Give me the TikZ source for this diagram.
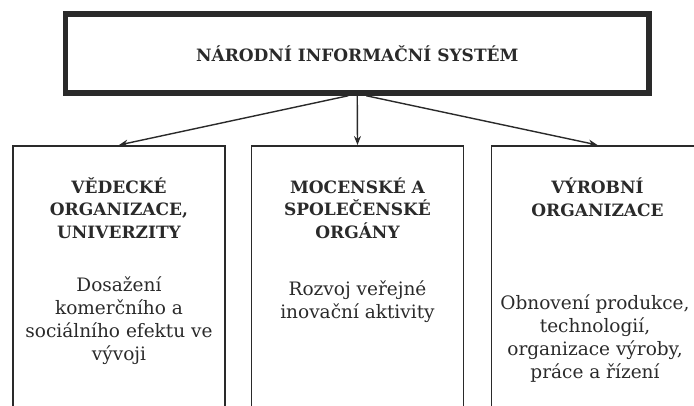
\documentclass[tikz,border=0pt]{standalone}
\usepackage{fontspec}
\setmainfont{DejaVu Serif}
\usetikzlibrary{arrows.meta}
\definecolor{ink}{HTML}{2A2A2A}
\tikzset{
  topbox/.style={draw=ink, line width=5.5pt, minimum width=583.5pt, minimum height=79pt, inner sep=0pt},
  colbox/.style={draw=ink, line width=1.6pt, minimum width=212pt, minimum height=290pt, anchor=north, inner sep=0pt},
  head/.style={font=\bfseries\fontsize{17}{22.5}\selectfont, text=ink, align=center, anchor=base},
  body/.style={font=\fontsize{18.5}{22.7}\selectfont, text=ink, align=center, anchor=base},
  link/.style={draw=ink, line width=1.4pt, -{Stealth[length=9pt,width=7pt]}}
}
\begin{document}
\begin{tikzpicture}[x=1pt,y=-1pt]
\useasboundingbox (0,0) rectangle (694,405);
\clip (0,0) rectangle (694,405);
% top level system
\node[topbox] (nis) at (357.25,53.5) {};
\node[font=\bfseries\fontsize{17}{20}\selectfont, text=ink] at (nis.center) {NÁRODNÍ INFORMAČNÍ SYSTÉM};
% three columns, cut by the lower edge
\node[colbox] (sci) at (119,145) {};
\node[colbox] (gov) at (357.5,145) {};
\node[colbox] (ind) at (597.5,145) {};
% headings (placed by the baseline of their last line)
\node[head] at (119,238) {VĚDECKÉ\\ORGANIZACE,\\UNIVERZITY};
\node[head] at (357.5,238) {MOCENSKÉ A\\SPOLEČENSKÉ\\ORGÁNY};
\node[head] at (597.5,216) {VÝROBNÍ\\ORGANIZACE};
% descriptions
\node[body] at (119,360) {Dosažení\\komerčního a\\sociálního efektu ve\\vývoji};
\node[body] at (357.5,318) {Rozvoj veřejné\\inovační aktivity};
\node[body] at (595,378) {Obnovení produkce,\\technologií,\\organizace výroby,\\práce a řízení};
% links
\draw[link] ([xshift=-9pt]nis.south) -- (sci.north);
\draw[link] (nis.south) -- (gov.north);
\draw[link] ([xshift=9pt]nis.south) -- (ind.north);
\end{tikzpicture}
\end{document}
